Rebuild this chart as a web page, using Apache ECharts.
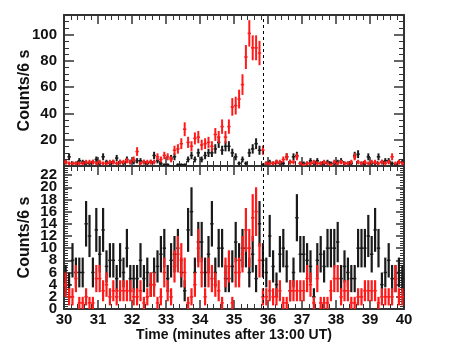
<!DOCTYPE html>
<html><head><meta charset="utf-8">
<script src="https://cdn.jsdelivr.net/npm/echarts@6/dist/echarts.min.js"></script>
<style>html,body{margin:0;padding:0;background:#fff}#c{width:473px;height:344px}</style>
</head><body><div id="c"></div>
<script>
// bin layout: 6-s bins (0.1 min) starting at 30.0 min
const binStart = 30.0;
const binWidth = 0.1;
const eventTime = 35.85; // dashed marker line (minutes)

// Top panel (0-115 counts)
const topBlack = [3,7,2,2,4,3,2,2,3,5, 2,7,3,2,3,6,3,2,5,3, 3,4,4,3,2,3,8,4,2,1,
  1,6,7,1,1,1,5,8,5,10, 5,8,10,10,13,18,12,15,15,10, 7,2,5,2,10,13,17,12,1,2,
  3,2,3,2,2,7,3,7,8,2, 2,2,4,2,4,2,2,3,2,2, 3,4,2,2,2,8,9,2,2,7, 2,2,7,3,4,4,2,1,3,3];
const topRed = [3,2,2,2,2,2,3,3,3,2, 3,2,2,3,3,2,3,3,4,3, 5,11,2,3,3,3,3,7,5,8,
  7,5,12,13,17,28,18,15,21,22, 16,17,18,15,24,22,30,22,30,45, 46,51,62,83,101,90,90,86,12,2,
  2,2,3,3,5,7,3,3,7,2, 1,2,2,3,2,2,3,2,1,3, 2,3,2,2,3,7,3,2,3,2, 3,3,2,3,2,3,7,2,3,2];
// Bottom panel (0-23.5 counts)
const botBlack = [5,4,8,6,6,6,14,12,6,13, 9,13,7,8,8,5,8,6,10,5, 5,5,8,5,6,
  4,6,7,9,10,5,8,9,10,6,3,13,16,6,11,11,6,9,14,6,10,10,5,
  5,7,11,8,10,10,6,9,5,14,8,6,12,7,4,9,10,7,3,6,15,9,9,8,7,2,8,
  9,7,10,10,10,11,5,7,6,5,5,10,10,10,12,9,13,10,4,6,8,5,5,6,5];
const botRed = [4,2,2,5,1,1,2,1,1,5, 5,3,4,2,3,2,3,3,3,3, 2,2,3,1,2,
  4,4,1,2,6,3,2,7,9,8,6,1,2,4,10,6,2,6,5,4,3,1,6,7,
  1,6,6,9,13,10,15,16,8,2,2,3,2,2,3,1,1,3,3,3,3,3,5,4,1,5,
  1,1,1,3,5,5,2,3,3,1,1,2,2,3,3,3,3,1,2,2,2,2,5,2,2];

const xTicks = [30,31,32,33,34,35,36,37,38,39,40];
const topYTicks = [20,40,60,80,100];
const botYTicks = [2,4,6,8,10,12,14,16,18,20,22];
const botYZero = [0];

function toPairs(vals){ return vals.map((v,k)=>[binStart + binWidth*(k+0.5), v]); }

function errItem(color, vlw){
  return function(params, api){
    const t = api.value(0), v = api.value(1), e = Math.sqrt(v);
    const cs = params.coordSys;
    const clampX = x => Math.max(cs.x, Math.min(cs.x + cs.width, x));
    const l = api.coord([t - binWidth/2, v]);
    const r = api.coord([t + binWidth/2, v]);
    const lo = api.coord([t, Math.max(v - e, 0)]);
    const hi = api.coord([t, v + e]);
    return {type:'group', children:[
      {type:'line', shape:{x1:clampX(l[0]), y1:l[1], x2:clampX(r[0]), y2:r[1]}, style:{stroke:color, lineWidth:1.5}},
      {type:'line', shape:{x1:lo[0], y1:lo[1], x2:hi[0], y2:Math.max(hi[1], cs.y)}, style:{stroke:color, lineWidth:vlw}}
    ]};
  };
}

const FONT = 'Liberation Sans';
const frame = {show:true, onZero:false, lineStyle:{color:'#333', width:2}};
function xAx(gi, pos, labels){
  return {type:'value', gridIndex:gi, position:pos, min:30, max:40, interval:1,
    axisLine:frame, splitLine:{show:false},
    axisTick:{show:true, inside:true, length:9, lineStyle:{color:'#333', width:1.5}},
    minorTick:{show:true, splitNumber:5, length:5, lineStyle:{color:'#333', width:1}},
    axisLabel:{show:labels, margin:3, showMinLabel:true, showMaxLabel:true, fontFamily:FONT, fontWeight:'bold', fontSize:15, color:'#111',
      formatter: v => xTicks.includes(v) ? String(v) : ''},
    name: labels ? 'Time (minutes after 13:00 UT)' : '', nameLocation:'middle', nameGap:19, nameMoveOverlap:false,
    nameTextStyle:{fontFamily:FONT, fontWeight:'bold', fontSize:14, color:'#111'}};
}
function yAx(gi, pos, labels, max, interval, minorSplit, ticks, majLen, showMin){
  return {type:'value', gridIndex:gi, position:pos, min:0, max:max, interval:interval,
    axisLine:frame, splitLine:{show:false},
    axisTick:{show:true, inside:true, length:majLen, lineStyle:{color:'#333', width:1.5}},
    minorTick:{show:true, splitNumber:minorSplit, length:majLen/2, lineStyle:{color:'#333', width:1}},
    axisLabel:{show:labels, margin:7, showMinLabel:showMin, showMaxLabel:false, fontFamily:FONT, fontWeight:'bold', fontSize:15, color:'#111',
      formatter: v => ticks.includes(v) ? String(v) : ''},
    name: labels ? 'Counts/6 s' : '', nameLocation:'middle', nameGap:31, nameRotate:90, nameMoveOverlap:false,
    nameTextStyle:{fontFamily:FONT, fontWeight:'bold', fontSize:16, color:'#111'}};
}
// separate axis that only carries the "0" label of the lower panel (it overlaps "2" as in the reference)
const zeroAx = {type:'value', gridIndex:1, position:'left', min:0, max:23.5, interval:2,
  axisLine:{show:false}, axisTick:{show:false}, splitLine:{show:false},
  axisLabel:{show:true, margin:7, showMinLabel:true, fontFamily:FONT, fontWeight:'bold', fontSize:15, color:'#111',
    formatter: v => botYZero.includes(v) ? String(v) : ''}};

const dash = {silent:true, symbol:'none', label:{show:false},
  lineStyle:{type:[3,3], color:'#000', width:1}, data:[{xAxis:eventTime}]};

const chart = echarts.init(document.getElementById('c'), null, {renderer:'canvas'});
chart.setOption({
  animation:false,
  backgroundColor:'#fff',
  grid:[{left:64, right:69, top:15, height:151}, {left:64, right:69, top:166, height:143}],
  xAxis:[xAx(0,'bottom',false), xAx(0,'top',false), xAx(1,'bottom',true), xAx(1,'top',false)],
  yAxis:[yAx(0,'left',true,115,20,4,topYTicks,10,false), yAx(0,'right',false,115,20,4,topYTicks,10,false),
         yAx(1,'left',true,23.5,2,5,botYTicks,8,false), yAx(1,'right',false,23.5,2,5,botYTicks,8,false), zeroAx],
  series:[
    {type:'custom', xAxisIndex:0, yAxisIndex:0, data:toPairs(topBlack), renderItem:errItem('#1a1a1a',2), markLine:dash},
    {type:'custom', xAxisIndex:0, yAxisIndex:0, data:toPairs(topRed), renderItem:errItem('#ff1a1a',2)},
    {type:'custom', xAxisIndex:2, yAxisIndex:2, data:toPairs(botBlack), renderItem:errItem('#1a1a1a',2.2), markLine:dash},
    {type:'custom', xAxisIndex:2, yAxisIndex:2, data:toPairs(botRed), renderItem:errItem('#ff1a1a',2.2)}
  ]
});
</script></body></html>
